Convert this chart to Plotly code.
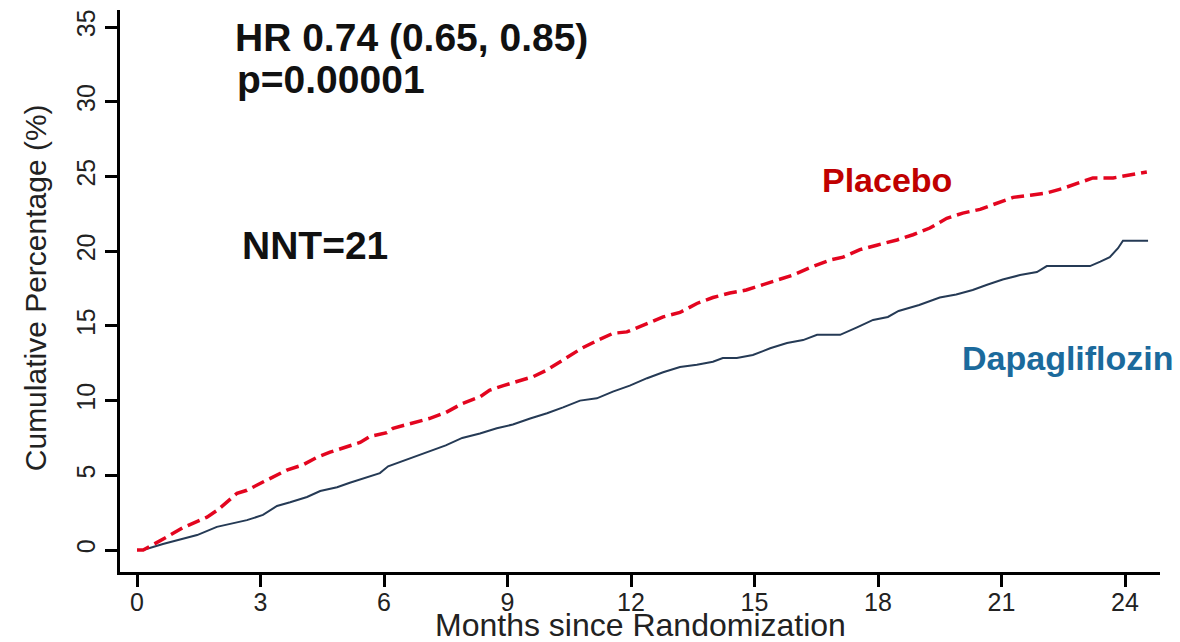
import plotly.graph_objects as go

# Kaplan-Meier cumulative incidence (%) by month since randomization
placebo_months = [0, 0.15, 0.68, 1.12, 1.7, 1.97, 2.43, 2.67, 3.06, 3.4, 3.64, 4.03, 4.37, 4.69,
                  5.0, 5.42, 5.66, 6.07, 6.22, 6.7, 7.1, 7.5, 7.9, 8.33, 8.57, 8.9, 9.23, 9.62,
                  9.96, 10.27, 10.6, 10.8, 11.2, 11.56, 11.9, 12.17, 12.39, 12.78, 13.19, 13.6,
                  13.99, 14.4, 14.8, 15.13, 15.55, 15.93, 16.35, 16.83, 17.15, 17.56, 17.97,
                  18.46, 18.85, 19.26, 19.67, 20.06, 20.48, 20.89, 21.28, 21.7, 22.1, 22.49,
                  22.9, 23.22, 23.71, 24.19, 24.53]
placebo_pct = [0, 0, 0.8, 1.5, 2.2, 2.7, 3.8, 4.0, 4.55, 5.0, 5.35, 5.7, 6.2, 6.55,
               6.8, 7.2, 7.6, 7.85, 8.15, 8.5, 8.8, 9.2, 9.8, 10.25, 10.7, 11.0, 11.25, 11.6,
               12.05, 12.6, 13.2, 13.5, 14.05, 14.5, 14.6, 14.9, 15.2, 15.6, 15.9, 16.5,
               16.9, 17.2, 17.4, 17.7, 18.1, 18.4, 18.9, 19.4, 19.6, 20.1, 20.4,
               20.75, 21.1, 21.55, 22.2, 22.55, 22.8, 23.2, 23.6, 23.75, 23.9, 24.2,
               24.6, 24.9, 24.9, 25.1, 25.3]

dapa_months = [0, 0.15, 0.63, 1.04, 1.46, 1.94, 2.26, 2.67, 3.06, 3.4, 3.72, 4.13, 4.45, 4.86,
               5.17, 5.49, 5.9, 6.1, 6.3, 6.7, 7.1, 7.5, 7.9, 8.33, 8.74, 9.13, 9.55, 9.96,
               10.35, 10.76, 11.17, 11.56, 11.97, 12.39, 12.78, 13.19, 13.6, 13.99, 14.23,
               14.57, 14.96, 15.38, 15.79, 16.18, 16.52, 17.08, 17.49, 17.88, 18.24, 18.5,
               19.0, 19.5, 19.9, 20.3, 20.65, 21.03, 21.45, 21.86, 22.1, 23.15, 23.4, 23.63,
               23.83, 23.95, 24.56]
dapa_pct = [0, 0, 0.4, 0.7, 1.0, 1.55, 1.75, 2.0, 2.35, 2.95, 3.2, 3.55, 3.95, 4.2,
            4.5, 4.8, 5.15, 5.6, 5.8, 6.2, 6.55, 7.0, 7.5, 7.8, 8.15, 8.4, 8.8, 9.15,
            9.55, 10.0, 10.15, 10.6, 11.0, 11.5, 11.9, 12.25, 12.4, 12.6, 12.85,
            12.85, 13.05, 13.5, 13.85, 14.05, 14.4, 14.4, 14.9, 15.4, 15.6, 16.0,
            16.4, 16.9, 17.1, 17.4, 17.75, 18.1, 18.4, 18.6, 19.0, 19.0, 19.3, 19.6,
            20.2, 20.7, 20.7]

x_ticks = [0, 3, 6, 9, 12, 15, 18, 21, 24]
y_ticks = [0, 5, 10, 15, 20, 25, 30, 35]

FONT = "Liberation Sans, Arial, sans-serif"
AXIS_TEXT = "#222222"

fig = go.Figure()
fig.add_trace(go.Scatter(
    x=dapa_months, y=dapa_pct, mode="lines", name="Dapagliflozin",
    line=dict(color="#253a55", width=2),
))
fig.add_trace(go.Scatter(
    x=placebo_months, y=placebo_pct, mode="lines", name="Placebo",
    line=dict(color="#e3051f", width=3.5, dash="13px,6px"),
))

annotations = [
    dict(text="<b>HR 0.74 (0.65, 0.85)</b>", x=2.33, y=34.27, size=39, color="#111111"),
    dict(text="<b>p=0.00001</b>", x=2.38, y=31.46, size=39, color="#111111"),
    dict(text="<b>NNT=21</b>", x=2.5, y=20.4, size=39, color="#111111"),
    dict(text="<b>Placebo</b>", x=16.59, y=24.77, size=34, color="#c00000"),
    dict(text="<b>Dapagliflozin</b>", x=19.99, y=12.85, size=34, color="#1b6a9c"),
]
for a in annotations:
    fig.add_annotation(
        x=a["x"], y=a["y"], xref="x", yref="y", text=a["text"], showarrow=False,
        xanchor="left", yanchor="middle",
        font=dict(family=FONT, size=a["size"], color=a["color"]),
    )

# axis titles placed explicitly so the plot frame stays fixed
fig.add_annotation(
    text="Months since Randomization", xref="paper", yref="paper", x=0.5, y=-0.0935,
    xanchor="center", yanchor="middle", showarrow=False,
    font=dict(family=FONT, size=32, color=AXIS_TEXT),
)
fig.add_annotation(
    text="Cumulative Percentage (%)", xref="paper", yref="paper", x=-0.0817, y=0.505,
    xanchor="center", yanchor="middle", textangle=-90, showarrow=False,
    font=dict(family=FONT, size=30, color=AXIS_TEXT),
)

fig.update_layout(
    width=1180, height=642,
    margin=dict(l=120, r=20, t=10, b=70, autoexpand=False),
    paper_bgcolor="white", plot_bgcolor="white",
    showlegend=False,
    font=dict(family=FONT, color="#111111"),
    xaxis=dict(
        range=[-0.413, 24.85], tickvals=x_ticks, ticktext=[str(v) for v in x_ticks],
        showgrid=False, zeroline=False, showline=True, linecolor="black", linewidth=3,
        ticks="outside", ticklen=12, tickwidth=3, tickcolor="black", automargin=False,
        tickfont=dict(size=25, color=AXIS_TEXT), ticklabelstandoff=-6,
    ),
    yaxis=dict(
        range=[-1.47, 36.14], tickvals=y_ticks, ticktext=[str(v) for v in y_ticks],
        showgrid=False, zeroline=False, showline=True, linecolor="black", linewidth=3,
        ticks="outside", ticklen=12, tickwidth=3, tickcolor="black", tickangle=-90,
        automargin=False, tickfont=dict(size=25, color=AXIS_TEXT),
    ),
)

fig.write_html("out.html")
